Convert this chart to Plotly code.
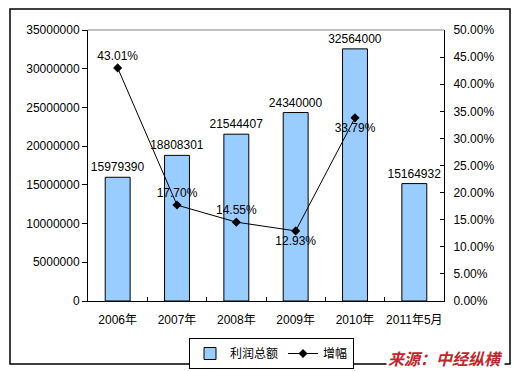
import plotly.graph_objects as go

categories = ["2006年", "2007年", "2008年", "2009年", "2010年", "2011年5月"]
profit = [15979390, 18808301, 21544407, 24340000, 32564000, 15164932]
growth = [0.4301, 0.1770, 0.1455, 0.1293, 0.3379, None]
growth_labels = ["43.01%", "17.70%", "14.55%", "12.93%", "33.79%", ""]
growth_pos = ["top center", "top center", "top center", "bottom center", "bottom center", "top center"]

FONT = "Liberation Sans, Arial, Noto Sans CJK SC, sans-serif"

fig = go.Figure()
fig.add_trace(go.Bar(
    x=categories, y=profit, name="利润总额",
    width=0.42,
    marker=dict(color="#99CCFF", line=dict(color="black", width=1)),
    text=[str(v) for v in profit], textposition="outside",
    constraintext="none",
    textfont=dict(size=12, color="black", family=FONT),
    cliponaxis=False,
))
fig.add_trace(go.Scatter(
    x=categories, y=growth, name="增幅", yaxis="y2",
    mode="lines+markers+text",
    line=dict(color="black", width=1),
    marker=dict(symbol="diamond", size=7, color="black"),
    text=growth_labels, textposition=growth_pos,
    textfont=dict(size=12, color="black", family=FONT),
    cliponaxis=False,
))

L, R, T, B = 88, 444, 30, 301
W, H = 513, 371
pw, ph = R - L, B - T

def px2x(px):
    return (px - L) / pw

def py2y(py):
    return (B - py) / ph

fig.update_layout(
    width=W, height=H,
    margin=dict(l=L, r=W - R, t=T, b=H - B, autoexpand=False),
    paper_bgcolor="white", plot_bgcolor="white",
    font=dict(family=FONT, size=12, color="black"),
    showlegend=True,
    legend=dict(
        orientation="h", x=px2x(189), y=py2y(338), xanchor="left", yanchor="top",
        bordercolor="black", borderwidth=1, bgcolor="white",
        font=dict(size=12, family=FONT), itemwidth=30,
        tracegroupgap=0,
    ),
    xaxis=dict(
        type="category", showline=True, linecolor="black", linewidth=1,
        ticks="inside", tickson="boundaries", ticklen=4, tickcolor="black",
        showgrid=False, tickangle=0, automargin=False, ticklabelstandoff=8,
        tickfont=dict(size=12, family=FONT),
    ),
    yaxis=dict(
        range=[0, 35000000], dtick=5000000, tickformat="d",
        showline=True, linecolor="black", linewidth=1,
        ticks="outside", ticklen=5, tickcolor="black",
        showgrid=False, zeroline=False, automargin=False,
        tickfont=dict(size=12, family=FONT),
    ),
    yaxis2=dict(
        range=[0, 0.5], dtick=0.05, tickformat=".2%",
        overlaying="y", side="right",
        showline=True, linecolor="black", linewidth=1,
        ticks="inside", ticklen=4, tickcolor="black",
        showgrid=False, zeroline=False, automargin=False, ticklabelstandoff=6,
        tickfont=dict(size=12, family=FONT),
    ),
    shapes=[
        dict(type="line", xref="paper", yref="paper", x0=0, x1=1, y0=1, y1=1,
             line=dict(color="gray", width=1)),
        dict(type="rect", xref="paper", yref="paper",
             x0=px2x(10), x1=px2x(510), y0=py2y(364), y1=py2y(9),
             line=dict(color="black", width=1.5), layer="below"),
    ],
    annotations=[
        dict(text="<b><i>来源：中经纵横</i></b>", xref="paper", yref="paper",
             x=px2x(505), y=py2y(358), xanchor="right", yanchor="middle",
             showarrow=False, bgcolor="white",
             font=dict(size=16, color="#C0262D", family="Noto Sans CJK SC")),
    ],
)

fig.write_html("out.html", config={"displayModeBar": False},
               post_script="document.body.style.margin='0';document.body.style.overflow='hidden';")
